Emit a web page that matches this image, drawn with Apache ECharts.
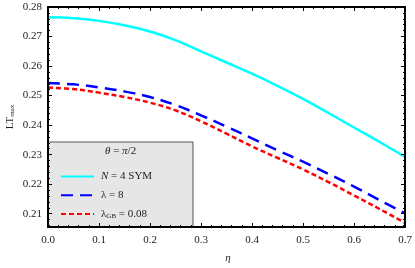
<!DOCTYPE html>
<html>
<head>
<meta charset="utf-8">
<script src="https://cdn.jsdelivr.net/npm/echarts@6/dist/echarts.min.js"></script>
<style>html,body{margin:0;padding:0;background:#fff}#c{width:415px;height:268px}</style>
</head>
<body>
<div id="c"></div>
<script>
var eta = [0, 0.05, 0.1, 0.15, 0.2, 0.25, 0.3, 0.35, 0.4, 0.45, 0.5, 0.55, 0.6, 0.65, 0.7];
var symVals = [0.2765, 0.2762, 0.2753, 0.2738, 0.2717, 0.2688, 0.2650, 0.2612, 0.2574, 0.2533, 0.2489, 0.2441, 0.2392, 0.2343, 0.2293];
var lamVals = [0.2543, 0.2538, 0.2528, 0.2514, 0.2495, 0.2468, 0.2433, 0.2395, 0.2355, 0.2315, 0.2276, 0.2235, 0.2192, 0.2146, 0.2101];
var gbVals  = [0.2527, 0.2522, 0.2510, 0.2495, 0.2476, 0.2450, 0.2413, 0.2371, 0.2328, 0.2289, 0.2250, 0.2207, 0.2162, 0.2116, 0.2069];
var seriesNames = ['N = 4 SYM', 'λ = 8', 'λGB = 0.08'];
var xTickLabels = ['0.0','0.1','0.2','0.3','0.4','0.5','0.6','0.7'];
var yTickLabels = ['0.21','0.22','0.23','0.24','0.25','0.26','0.27','0.28'];

var font = 'Liberation Serif';
var ch = echarts.init(document.getElementById('c'));
function pairs(v){ return eta.map(function(x,i){ return [x, v[i]]; }); }
var yMin = 0.2055, yMax = 0.28;

function yAx(pos, labels){
  return {type:'value', position:pos, min:yMin, max:yMax, splitNumber:7, zlevel:1,
    axisLine:{show:true, onZero:false, lineStyle:{color:'#000', width:2}},
    splitLine:{show:false},
    axisTick:{show:true, inside:true, length:4, lineStyle:{color:'#000', width:1}},
    minorTick:{show:true, splitNumber:5, length:2, lineStyle:{color:'#000', width:1}},
    axisLabel:{show:labels, showMinLabel:false, fontFamily:font, fontSize:11, color:'#222', margin:6,
      formatter:function(v){ var k = Math.round(v*100) - 21; return yTickLabels[k] || ''; }}};
}
var yAxes = [yAx('left', true), yAx('right', false)];

function xAx(pos, labels){
  return {type:'value', position:pos, min:0, max:0.7, interval:0.1, zlevel:1,
    axisLine:{show:true, onZero:false, lineStyle:{color:'#000', width:2}},
    splitLine:{show:false},
    axisTick:{show:true, inside:true, length:4, lineStyle:{color:'#000', width:1}},
    minorTick:{show:true, splitNumber:5, length:2, lineStyle:{color:'#000', width:1}},
    axisLabel:{show:labels, fontFamily:font, fontSize:11, color:'#222', margin:8,
      formatter:function(v){ return xTickLabels[Math.round(v*10)]; }}};
}
var xAxes = [xAx('bottom', true), xAx('top', false)];

var colors = ['#00ffff', '#0000ff', '#ff0000'];
var dashes = ['solid', [12, 7], [5, 3]];
var vals = [symVals, lamVals, gbVals];
var series = vals.map(function(v, i){
  return {name:seriesNames[i], type:'line', data:pairs(v), smooth:0.4, symbol:'none',
    lineStyle:{color:colors[i], width:2.5, type:dashes[i]}, itemStyle:{color:colors[i]}};
});

ch.setOption({
  animation:false,
  grid:{left:48, right:10, top:7, bottom:41, outerBoundsMode:'none'},
  xAxis:xAxes,
  yAxis:yAxes,
  series:series,
  legend:{orient:'vertical', left:55, top:166, itemWidth:33, itemHeight:14, itemGap:7.5, z:10,
    data:seriesNames,
    itemStyle:{opacity:0},
    textStyle:{fontFamily:font, fontSize:11, color:'#222', padding:[0,0,0,2],
      rich:{i:{fontFamily:font, fontSize:11, fontStyle:'italic', color:'#222'},
            n:{fontFamily:font, fontSize:11, color:'#222'},
            s:{fontFamily:font, fontSize:7, color:'#222', verticalAlign:'bottom', padding:[5,0,0,0]}}},
    formatter:function(name){
      if (name === seriesNames[0]) return '{i|N} = 4 SYM';
      if (name === seriesNames[2]) return '{n|λ}{s|GB} = 0.08';
      return name;
    }},
  graphic:[
    {type:'rect', z:5, shape:{x:48, y:142, width:145, height:85}, style:{fill:'#e6e6e6', stroke:'#555', lineWidth:1}},
    {type:'text', z:11, left:105, top:146, style:{text:'{i|θ} = {i|π}/2', fontFamily:font, fontSize:11, fill:'#222',
      rich:{i:{fontFamily:font, fontSize:11, fontStyle:'italic', fill:'#222'}}}},
    {type:'text', z:11, x:10, y:117, rotation:Math.PI/2, style:{text:'{a|LT}{b|max}', align:'center', verticalAlign:'middle',
      rich:{a:{fontFamily:font, fontSize:11, fill:'#222'}, b:{fontFamily:font, fontSize:7, fill:'#222', verticalAlign:'bottom', padding:[4,0,0,0]}}}},
    {type:'text', z:11, x:228, y:258, style:{text:'η', align:'center', verticalAlign:'middle', fontFamily:font, fontSize:11, fontStyle:'italic', fill:'#222'}}
  ]
});
</script>
</body>
</html>
